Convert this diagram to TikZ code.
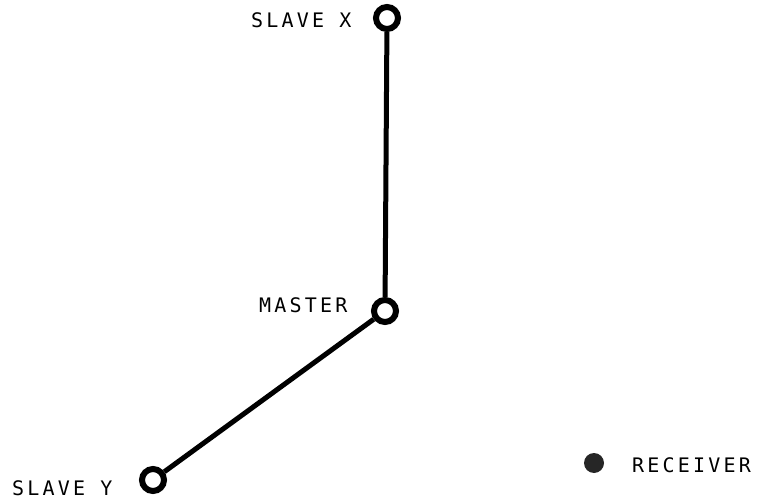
\documentclass[tikz,border=0pt]{standalone}
\usepackage{fontspec}
\setmainfont{DejaVu Sans Mono}[LetterSpace=16]
\begin{document}
\begin{tikzpicture}[x=1pt,y=-1pt,
  station/.style={circle,draw=black,line width=6pt,fill=white,minimum size=22pt,inner sep=0pt},
  rx/.style={circle,fill=black!85,minimum size=20pt,inner sep=0pt},
  lab/.style={font=\fontsize{20}{20}\selectfont,inner sep=0pt,anchor=base west},
  link/.style={line width=5pt}]
\useasboundingbox (0,0) rectangle (761,503);
\node[station] (sx) at (387,18) {};
\node[station] (m) at (385,311) {};
\node[station] (sy) at (153,480) {};
\node[rx] (r) at (594,463) {};
\draw[link] (sx) -- (m);
\draw[link] (m) -- (sy);
\node[lab] (lsx) at (251,28) {SLAVE X};
\node[lab] (lm) at (259,312) {MASTER};
\node[lab] (lsy) at (12,495) {SLAVE Y};
\node[lab] (lr) at (632,472) {RECEIVER};
\end{tikzpicture}
\end{document}
